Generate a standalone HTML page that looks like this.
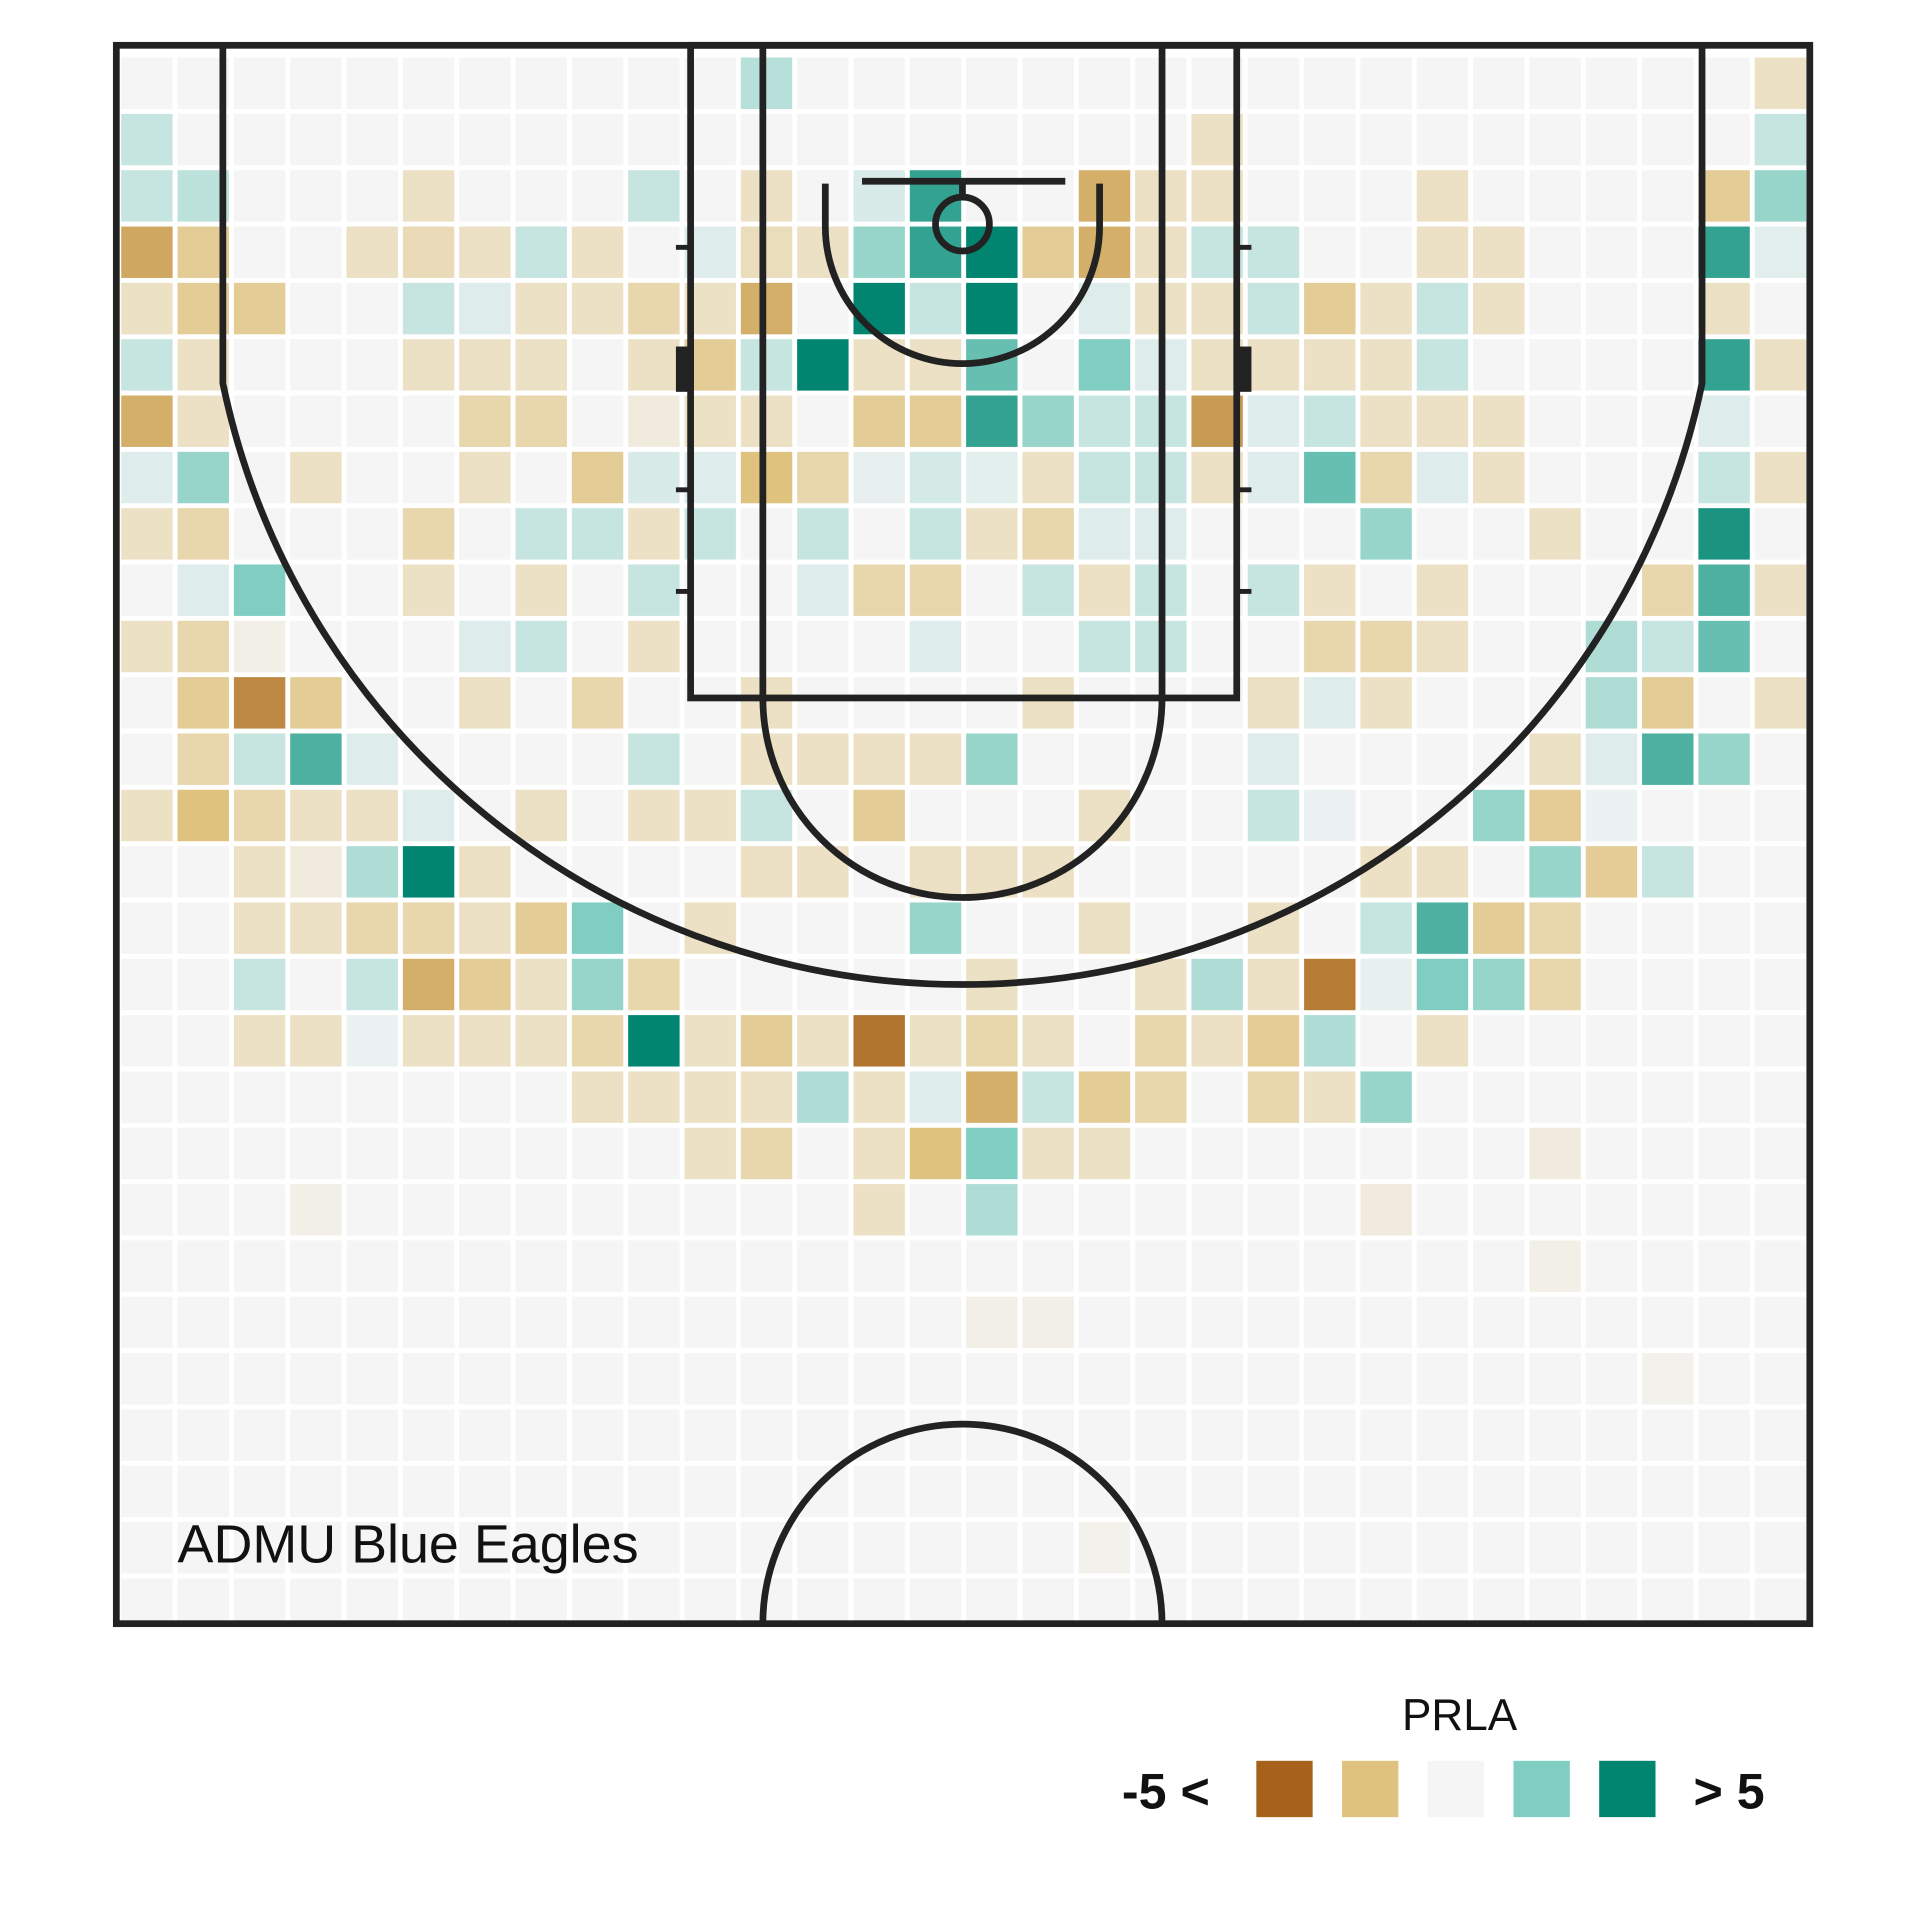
<!DOCTYPE html>
<html><head><meta charset="utf-8"><style>
html,body{margin:0;padding:0;background:#fff}
svg{display:block}
text{font-family:"Liberation Sans",sans-serif}
</style></head><body>
<svg id="chart" width="1920" height="1920" viewBox="0 0 1568 1568" xmlns="http://www.w3.org/2000/svg">
<defs><clipPath id="courtClip"><rect x="97" y="39" width="1379" height="1285"/></clipPath></defs>
<g id="cells" clip-path="url(#courtClip)"></g>
<g id="court" fill="none" stroke="#222" stroke-width="5.5">
<rect x="95" y="37" width="1383" height="1289"/>
<rect x="564" y="37" width="446" height="533"/>
<line x1="623" y1="37" x2="623" y2="570"/>
<line x1="949" y1="37" x2="949" y2="570"/>
<path d="M623 570 A163 163 0 0 0 949 570"/>
<path d="M182 37 L182 313 A617 617 0 0 0 1390 313 L1390 37"/>
<circle cx="786" cy="183" r="22"/>
<line x1="704" y1="148" x2="870" y2="148"/>
<line x1="786" y1="148" x2="786" y2="161"/>
<path d="M674 150 L674 185 A112 112 0 0 0 898 185 L898 150"/>
<path d="M623 1326 A163 163 0 0 1 949 1326"/>
<g stroke-width="4">
<line x1="552" y1="202" x2="564" y2="202"/><line x1="552" y1="400" x2="564" y2="400"/><line x1="552" y1="483" x2="564" y2="483"/>
<line x1="1010" y1="202" x2="1022" y2="202"/><line x1="1010" y1="400" x2="1022" y2="400"/><line x1="1010" y1="483" x2="1022" y2="483"/>
</g>
<rect x="552" y="283" width="10" height="37" fill="#222" stroke="none"/>
<rect x="1012" y="283" width="10" height="37" fill="#222" stroke="none"/>
</g>
<text x="145" y="1276" font-size="44" fill="#111">ADMU Blue Eagles</text>
<g id="legend">
<text x="1192" y="1413" font-size="36" text-anchor="middle" fill="#111">PRLA</text>
<text x="988" y="1477" font-size="41" font-weight="bold" text-anchor="end" fill="#111">-5 &lt;</text>
<text x="1383" y="1477" font-size="41" font-weight="bold" fill="#111">&gt; 5</text>
</g>
</svg>
<script>
const legendValues = [-5, -2.5, 0, 2.5, 5];
const row0  = [0,0,0,0,0,0,0,0,0,0,0,1.3,0,0,0,0,0,0,0,0,0,0,0,0,0,0,0,0,0,-1];
const row1  = [1,0,0,0,0,0,0,0,0,0,0,0,0,0,0,0,0,0,0,-1,0,0,0,0,0,0,0,0,0,1];
const row2  = [1,1.2,0,0,0,-1,0,0,0,1,0,-1,0,0.6,4,0,0,-3,-1,-1,0,0,0,-1,0,0,0,0,-2,2];
const row3  = [-3.2,-2,0,0,-1,-1.3,-1,1,-1,0,0.5,-1.2,-1,2,4,5,-2,-3,-1,1,1,0,0,-1,-1,0,0,0,4,0.4];
const row4  = [-1,-2,-2,0,0,1,0.5,-1,-1,-1.5,-1,-3,0,5,1,5,0,0.5,-1,-1,1,-2,-1,1,-1,0,0,0,-1,0];
const row5  = [1,-1,0,0,0,-1,-1,-1,0,-1,-2,1,5,-1,-1,3,0,2.5,0.5,-1,-1,-1,-1,1,0,0,0,0,4,-1];
const row6  = [-3,-1,0,0,0,0,-1.5,-1.5,0,-0.5,-1,-1,0,-2,-2,4,2,1,1,-3.5,0.5,1,-1,-1,-1,0,0,0,0.5,0];
const row7  = [0.5,2,0,-1,0,0,-1,0,-2,0.6,0.5,-2.5,-1.5,0.3,0.7,0.4,-1,1,1,-1,0.5,3,-1.5,0.5,-1,0,0,0,1,-1];
const row8  = [-1,-1.5,0,0,0,-1.5,0,1,1,-1,1,0,1,0,1,-1,-1.5,0.5,0.5,0,0,0,2,0,0,-1,0,0,4.5,0];
const row9  = [0,0.5,2.5,0,0,-1,0,-1,0,1,0,0,0.5,-1.5,-1.5,0,1,-1,1,0,1,-1,0,-1,0,0,0,-1.5,3.5,-1];
const row10 = [-1,-1.5,-0.3,0,0,0,0.5,1,0,-1,0,0,0,0,0.5,0,0,1,1,0,0,-1.5,-1.5,-1,0,0,1.5,1,3,0];
const row11 = [0,-2,-4,-2,0,0,-1,0,-1.5,0,0,-1,0,0,0,0,-1,0,0,0,-1,0.5,-1,0,0,0,1.5,-2,0,-1];
const row12 = [0,-1.5,1,3.5,0.5,0,0,0,0,1,0,-1,-1,-1,-1,2,0,0,0,0,0.5,0,0,0,0,-1,0.5,3.5,2,0];
const row13 = [-1,-2.5,-1.5,-1,-1,0.5,0,-1,0,-1,-1,1,0,-2,0,0,0,-1,0,0,1,0.2,0,0,2,-2,0.2,0,0,0];
const row14 = [0,0,-1,-0.5,1.5,5,-1,0,0,0,0,-1,-1,0,-1,-1,-1,0,0,0,0,0,-1,-1,0,2,-2,1,0,0];
const row15 = [0,0,-1,-1,-1.5,-1.5,-1,-2,2.5,0,-1,0,0,0,2,0,0,-1,0,0,-1,0,1,3.5,-2,-1.5,0,0,0,0];
const row16 = [0,0,1,0,1,-3,-2,-1,2,-1.5,0,0,0,0,0,-1,0,0,-1,1.5,-1,-4.3,0.3,2.5,2,-1.5,0,0,0,0];
const row17 = [0,0,-1,-1,0.2,-1,-1,-1,-1.5,5,-1,-2,-1,-4.5,-1,-1.5,-1,0,-1.5,-1,-2,1.5,0,-1,0,0,0,0,0,0];
const row18 = [0,0,0,0,0,0,0,0,-1,-1,-1,-1,1.5,-1,0.5,-3,1,-2,-1.5,0,-1.5,-1,2,0,0,0,0,0,0,0];
const row19 = [0,0,0,0,0,0,0,0,0,0,-1,-1.5,0,-1,-2.5,2.5,-1,-1,0,0,0,0,0,0,0,-0.5,0,0,0,0];
const row20 = [0,0,0,-0.3,0,0,0,0,0,0,0,0,0,-1,0,1.5,0,0,0,0,0,0,-0.5,0,0,0,0,0,0,0];
const row21 = [0,0,0,0,0,0,0,0,0,0,0,0,0,0,0,0,0,0,0,0,0,0,0,0,0,-0.3,0,0,0,0];
const row22 = [0,0,0,0,0,0,0,0,0,0,0,0,0,0,0,-0.3,-0.3,0,0,0,0,0,0,0,0,0,0,0,0,0];
const row23 = [0,0,0,0,0,0,0,0,0,0,0,0,0,0,0,0,0,0,0,0,0,0,0,0,0,0,0,-0.2,0,0];
const row24 = [0,0,0,0,0,0,0,0,0,0,0,0,0,0,0,0,0,0,0,0,0,0,0,0,0,0,0,0,0,0];
const row25 = [0,0,0,0,0,0,0,0,0,0,0,0,0,0,0,0,0,0,0,0,0,0,0,0,0,0,0,0,0,0];
const row26 = [0,0,0,0,0,0,0,0,0,0,0,0,0,0,0,0,0,-0.2,0,0,0,0,0,0,0,0,0,0,0,0];
const row27 = [0,0,0,0,0,0,0,0,0,0,0,0,0,0,0,0,0,0,0,0,0,0,0,0,0,0,0,0,0,0];
const grid = [row0,row1,row2,row3,row4,row5,row6,row7,row8,row9,row10,row11,row12,row13,row14,row15,row16,row17,row18,row19,row20,row21,row22,row23,row24,row25,row26,row27];

const stops = [[-5,[166,97,26]],[-2.5,[223,194,125]],[0,[245,245,245]],[2.5,[128,205,193]],[5,[1,133,113]]];
function colorFor(v){
  v = Math.max(-5, Math.min(5, v));
  for (let i=0;i<stops.length-1;i++){
    const a=stops[i], b=stops[i+1];
    if (v<=b[0]){
      const t=(v-a[0])/(b[0]-a[0]);
      const c=a[1].map((x,k)=>Math.round(x+(b[1][k]-x)*t));
      return 'rgb('+c.join(',')+')';
    }
  }
  return 'rgb(1,133,113)';
}
const x0 = 99, y0 = 47, step = 46, size = 42;
function xScale(col){ return x0 + col*step; }
function yScale(row){ return y0 + row*step; }
const NS='http://www.w3.org/2000/svg';
const g = document.getElementById('cells');
for (let r=0;r<grid.length;r++){
  for (let c=0;c<grid[r].length;c++){
    const rect = document.createElementNS(NS,'rect');
    rect.setAttribute('x', xScale(c));
    rect.setAttribute('y', yScale(r));
    rect.setAttribute('width', size);
    rect.setAttribute('height', size);
    rect.setAttribute('fill', colorFor(grid[r][c]));
    
    
    g.appendChild(rect);
  }
}
const lg = document.getElementById('legend');
for (let i=0;i<legendValues.length;i++){
  const rect = document.createElementNS(NS,'rect');
  rect.setAttribute('x', 1026 + i*70);
  rect.setAttribute('y', 1438);
  rect.setAttribute('width', 46);
  rect.setAttribute('height', 46);
  rect.setAttribute('fill', colorFor(legendValues[i]));
  
  
  lg.appendChild(rect);
}
</script>
</body></html>
